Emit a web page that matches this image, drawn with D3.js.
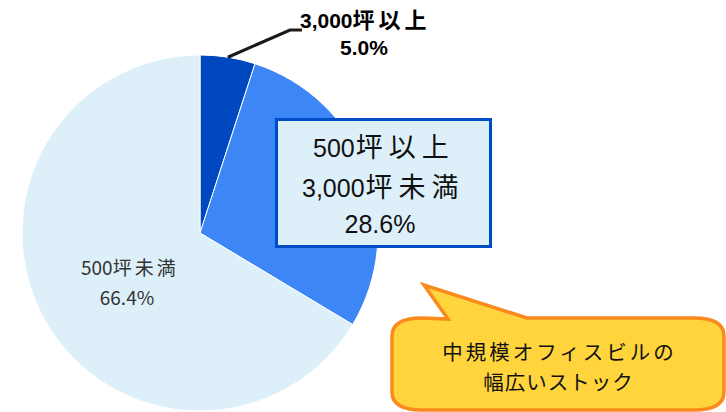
<!DOCTYPE html>
<html><head><meta charset="utf-8">
<script src="https://cdn.jsdelivr.net/npm/d3@7"></script>
<style>html,body{margin:0;padding:0;background:#fff;}svg{display:block;}</style>
</head><body>
<svg id="c" width="726" height="412"></svg>
<script>
const categories = ["3,000坪以上", "500坪以上3,000坪未満", "500坪未満"];
const values = [5.0, 28.6, 66.4];
const colors = ["#0048C0", "#3D86F6", "#DDF0FA"];

const svg = d3.select("#c");
const cx = 200, cy = 233, r = 178;
const g = svg.append("g").attr("transform", `translate(${cx},${cy})`);
const data = categories.map((c, i) => ({c, v: values[i], col: colors[i]}));
const pie = d3.pie().sort(null).value(d => d.v).startAngle(0).endAngle(2*Math.PI);
const arc = d3.arc().innerRadius(0).outerRadius(r);
const arcs = pie(data);
g.selectAll("path.slice").data(arcs).join("path")
  .attr("class","slice")
  .attr("d", arc)
  .attr("fill", d => d.data.col)
  .attr("stroke", "#fff").attr("stroke-width", 1);

const fmt = v => v.toFixed(1) + "%";
const jp = "'Noto Sans CJK JP', 'Liberation Sans', sans-serif";
const lat = "'Liberation Sans', 'Noto Sans CJK JP', sans-serif";

// leader line for first slice
const a0 = arcs[0];
const mid = (a0.startAngle + a0.endAngle)/2;
const px = cx + r*Math.sin(mid), py = cy - r*Math.cos(mid);
svg.append("polyline")
  .attr("points", `${px},${py} 290,30 302,30`)
  .attr("fill","none").attr("stroke","#1a1a1a").attr("stroke-width",3.2);
const t1 = svg.append("text").attr("x", 300).attr("y", 28)
  .attr("font-family", jp).attr("font-weight", "bold").attr("font-size", 21).attr("fill","#000");
t1.append("tspan").text("3,000").attr("font-family", lat);
t1.append("tspan").text("坪以上").attr("letter-spacing", 4).attr("font-size", 22);
svg.append("text").attr("x", 364).attr("y", 55).attr("text-anchor","middle")
  .attr("font-family", lat).attr("font-weight","bold").attr("font-size", 21).attr("fill","#000")
  .text(fmt(values[0]));

// box label for second slice
svg.append("rect").attr("x", 276.5).attr("y", 119.5).attr("width", 214).attr("height", 127)
  .attr("fill", "#DDF0FA").attr("stroke", "#004CC6").attr("stroke-width", 3);
const boxLines = [["500","坪以上",313,157],["3,000","坪未満",302,197]];
boxLines.forEach(([a,b,x,y]) => {
  const t = svg.append("text").attr("x", x).attr("y", y).attr("font-size", 25).attr("fill","#111").attr("font-family", jp);
  t.append("tspan").text(a).attr("font-family", lat);
  t.append("tspan").text(b).attr("dx", 1).attr("font-size", 27).attr("letter-spacing", 6);
});
svg.append("text").attr("x", 380).attr("y", 233).attr("text-anchor","middle")
  .attr("font-family", lat).attr("font-size", 25).attr("fill","#111").text(fmt(values[1]));

// label for third slice
const t3 = svg.append("text").attr("x", 81).attr("y", 275).attr("font-size", 19).attr("fill","#333").attr("font-family", jp);
t3.append("tspan").text("500");
t3.append("tspan").text("坪未満").attr("letter-spacing", 3);
svg.append("text").attr("x", 127).attr("y", 305).attr("text-anchor","middle")
  .attr("font-family", jp).attr("font-size", 19).attr("fill","#333").text(fmt(values[2]));

// callout
const L = 392, R = 724, T = 318, B = 410, rx = 30, ry = 18;
const path = d3.path();
path.moveTo(L + rx, T);
path.lineTo(448, T + 1);
path.lineTo(424, 285);
path.lineTo(527, T);
path.lineTo(R - rx, T);
path.bezierCurveTo(R - rx*0.3, T, R, T + ry*0.4, R, T + ry);
path.lineTo(R, B - ry);
path.bezierCurveTo(R, B - ry*0.4, R - rx*0.3, B, R - rx, B);
path.lineTo(L + rx, B);
path.bezierCurveTo(L + rx*0.3, B, L, B - ry*0.4, L, B - ry);
path.lineTo(L, T + ry);
path.bezierCurveTo(L, T + ry*0.4, L + rx*0.3, T, L + rx, T);
path.closePath();
svg.append("path").attr("d", path.toString())
  .attr("fill", "#FFD43C").attr("stroke", "#F98A1E").attr("stroke-width", 3.5).attr("stroke-linejoin","miter");
const callout = ["中規模オフィスビルの", "幅広いストック"];
const calloutSpacing = [3, 1];
svg.selectAll("text.callout").data(callout).join("text")
  .attr("class","callout")
  .attr("x", (d,i) => 558 + calloutSpacing[i]/2).attr("y", (d,i) => 360 + i*30)
  .attr("text-anchor","middle").attr("font-family", jp).attr("font-size", 20.5)
  .attr("letter-spacing", (d,i) => calloutSpacing[i]).attr("fill","#111")
  .text(d => d);
</script>
</body></html>
